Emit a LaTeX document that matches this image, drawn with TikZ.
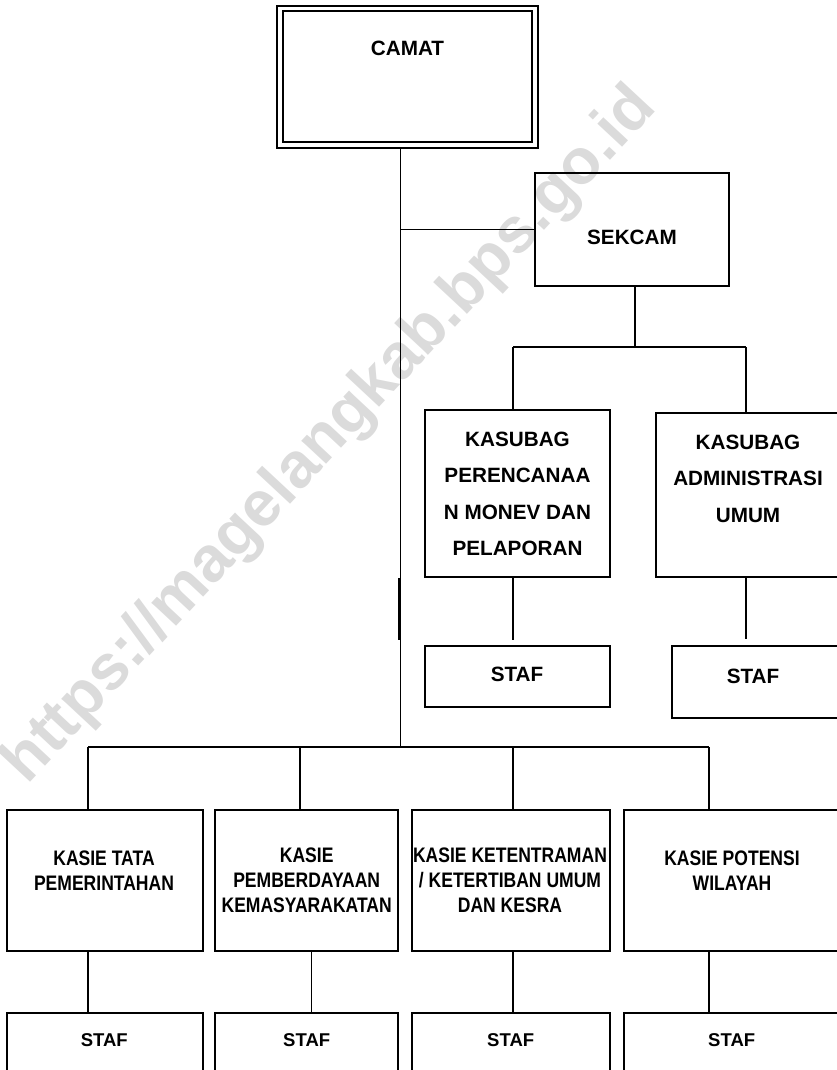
\documentclass[tikz,border=0pt]{standalone}
\usepackage{fontspec}
\setmainfont{Liberation Sans}
\newfontfamily\narrowbf[FakeStretch=0.835]{Liberation Sans}
\begin{document}
\begin{tikzpicture}[x=1pt,y=-1pt,
  box/.style={draw, line width=2.3pt, rectangle, inner sep=0pt},
  dbl/.style={draw, line width=2pt, rectangle, inner sep=0pt},
  conn/.style={line width=1.4pt},
  thinline/.style={line width=1pt},
  toptxt/.style={font=\bfseries\fontsize{20.7}{36.6}\selectfont, align=center, inner sep=0pt},
  bottxt/.style={font=\narrowbf\bfseries\fontsize{21}{25}\selectfont, align=center, inner sep=0pt},
  staftxt/.style={font=\bfseries\fontsize{18.5}{20}\selectfont, inner sep=0pt},
  wmark/.style={text=black!14, font=\bfseries\fontsize{64}{64}\selectfont, inner sep=0pt}
]
\useasboundingbox (0,0) rectangle (837,1070);
\clip (0,0) rectangle (837,1070);

% watermark
\node[wmark, rotate=47] (wm) at (331,436) {https://magelangkab.bps.go.id};

% CAMAT (double frame)
\node[dbl, minimum width=261pt, minimum height=142pt] (camat) at (407.5,77) {};
\node[dbl, minimum width=249pt, minimum height=131pt] (camatin) at (407.5,76.5) {};
\node[toptxt] (tcamat) at (407.5,48.3) {CAMAT};

% SEKCAM
\node[box, minimum width=194pt, minimum height=113pt] (sekcam) at (632,229.5) {};
\node[toptxt] (tsekcam) at (632,237.5) {SEKCAM};

% KASUBAG boxes
\node[box, minimum width=185pt, minimum height=167pt] (kas1) at (517.5,493.5) {};
\node[toptxt] (tkas1) at (517.5,493.8) {KASUBAG\\PERENCANAA\\N MONEV DAN\\PELAPORAN};
\node[box, minimum width=189pt, minimum height=164pt] (kas2) at (750.5,495) {};
\node[toptxt] (tkas2) at (748,478.7) {KASUBAG\\ADMINISTRASI\\UMUM};

% STAF under KASUBAG
\node[box, minimum width=185pt, minimum height=61pt] (stafA) at (517.5,676.5) {};
\node[toptxt] (tstafA) at (517,674.5) {STAF};
\node[box, minimum width=173pt, minimum height=72pt] (stafB) at (758.5,682) {};
\node[toptxt] (tstafB) at (753,676.7) {STAF};

% KASIE boxes
\node[box, minimum width=196pt, minimum height=141pt] (b1) at (105,880.5) {};
\node[box, minimum width=183pt, minimum height=141pt] (b2) at (306.5,880.5) {};
\node[box, minimum width=198pt, minimum height=141pt] (b3) at (511,880.5) {};
\node[box, minimum width=221pt, minimum height=141pt] (b4) at (734.5,880.5) {};
\node[bottxt] (tb1) at (104,870.7) {KASIE TATA\\PEMERINTAHAN};
\node[bottxt] (tb2) at (306.7,880) {KASIE\\PEMBERDAYAAN\\KEMASYARAKATAN};
\node[bottxt] (tb3) at (510,880) {KASIE KETENTRAMAN\\/ KETERTIBAN UMUM\\DAN KESRA};
\node[bottxt] (tb4) at (732,870.7) {KASIE POTENSI\\WILAYAH};

% bottom STAF boxes
\node[box, minimum width=196pt, minimum height=77pt] (s1) at (105,1051.5) {};
\node[box, minimum width=183pt, minimum height=77pt] (s2) at (306.5,1051.5) {};
\node[box, minimum width=198pt, minimum height=77pt] (s3) at (511,1051.5) {};
\node[box, minimum width=221pt, minimum height=77pt] (s4) at (734.5,1051.5) {};
\node[staftxt] (ts1) at (104.3,1040) {STAF};
\node[staftxt] (ts2) at (306.7,1040) {STAF};
\node[staftxt] (ts3) at (510.7,1040) {STAF};
\node[staftxt] (ts4) at (731.7,1040) {STAF};

% junction coordinates
\coordinate (t1) at (400,747);
\coordinate (tk1) at (398.5,578);
\coordinate (tk2) at (398.5,640);
\coordinate (sb) at (635,347);
\coordinate (sbl) at (513,347);
\coordinate (sbr) at (746,347);
\coordinate (e1) at (513,640);
\coordinate (e2) at (746,639);
\coordinate (bl) at (88,747);
\coordinate (br) at (709,747);
\coordinate (d2) at (300,747);
\coordinate (d3) at (513,747);

% trunk
\draw[thinline] (camat.south -| t1) -- (t1);
\draw[line width=2pt] (tk1) -- (tk2);
\draw[thinline] (sekcam.west -| t1) -- (sekcam.west);

% SEKCAM branch
\draw[conn] (sekcam.south -| sb) -- (sb);
\draw[conn] (sbl) -- (sbr);
\draw[conn] (sbl) -- (sbl |- kas1.north);
\draw[conn] (sbr) -- (sbr |- kas2.north);
\draw[conn] (kas1.south -| sbl) -- (e1);
\draw[conn] (kas2.south -| sbr) -- (e2);

% bottom bus
\draw[conn] (bl) -- (br);
\draw[conn] (bl) -- (bl |- b1.north);
\draw[conn] (d2) -- (d2 |- b2.north);
\draw[conn] (d3) -- (d3 |- b3.north);
\draw[conn] (br) -- (br |- b4.north);

% lower drops
\draw[conn] (b1.south -| bl) -- (s1.north -| bl);
\draw[conn] ([xshift=5pt]b2.south) -- ([xshift=5pt]s2.north);
\draw[conn] (b3.south -| d3) -- (s3.north -| d3);
\draw[conn] (b4.south -| br) -- (s4.north -| br);
\end{tikzpicture}
\end{document}
